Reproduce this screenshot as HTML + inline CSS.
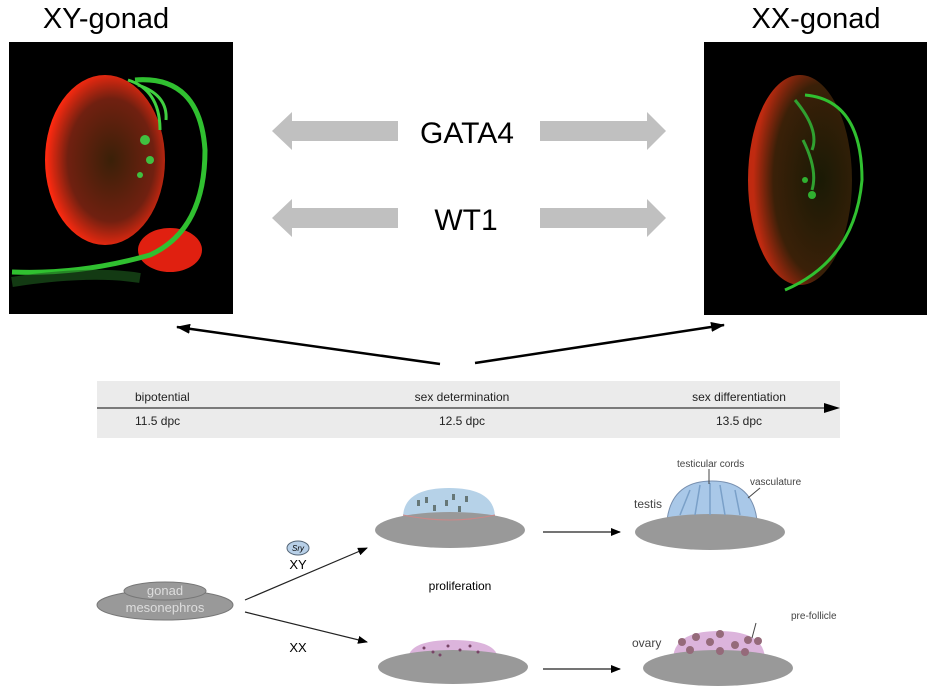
<!DOCTYPE html>
<html><head><meta charset="utf-8"><style>body{margin:0;background:#fff}svg{display:block}</style></head><body>
<svg width="938" height="700" viewBox="0 0 938 700" xmlns="http://www.w3.org/2000/svg" font-family="Liberation Sans, sans-serif">
<defs>
<radialGradient id="rd" cx="0.55" cy="0.5" r="0.6"><stop offset="0" stop-color="#3a2008"/><stop offset="0.6" stop-color="#702010"/><stop offset="0.9" stop-color="#ff2a10"/><stop offset="1" stop-color="#ff2a10"/></radialGradient>
<radialGradient id="rd2" cx="0.7" cy="0.5" r="0.65"><stop offset="0" stop-color="#1a1a05"/><stop offset="0.7" stop-color="#3a2008"/><stop offset="1" stop-color="#c02a10"/></radialGradient>
<marker id="ah" markerWidth="10" markerHeight="8" refX="9" refY="4" orient="auto" markerUnits="userSpaceOnUse"><path d="M0,0 L10,4 L0,8z" fill="#000"/></marker>
<marker id="ah2" markerWidth="14" markerHeight="10" refX="13" refY="5" orient="auto" markerUnits="userSpaceOnUse"><path d="M0,0 L14,5 L0,10z" fill="#000"/></marker>
</defs>
<text x="106" y="28" font-size="29" text-anchor="middle">XY-gonad</text>
<text x="816" y="28" font-size="29" text-anchor="middle">XX-gonad</text>
<rect x="9" y="42" width="224" height="272" fill="#000"/>
<ellipse cx="105" cy="160" rx="60" ry="85" fill="url(#rd)"/>
<ellipse cx="170" cy="250" rx="32" ry="22" fill="#e02010"/>
<path d="M135 80 Q200 75 205 150 Q205 230 150 255 Q80 275 12 272" fill="none" stroke="#30c030" stroke-width="5"/>
<path d="M12 282 Q90 270 140 278" fill="none" stroke="#206020" stroke-width="10" opacity="0.6"/>
<path d="M128 80 Q160 90 160 130 M138 85 Q168 95 166 120" fill="none" stroke="#40d040" stroke-width="3"/>
<circle cx="145" cy="140" r="5" fill="#40c040"/><circle cx="150" cy="160" r="4" fill="#40c040"/><circle cx="140" cy="175" r="3" fill="#40c040"/>
<rect x="704" y="42" width="223" height="273" fill="#000"/>
<ellipse cx="800" cy="180" rx="52" ry="105" fill="url(#rd2)"/>
<path d="M805 95 Q862 100 862 180 Q855 260 785 290" fill="none" stroke="#30c030" stroke-width="3"/>
<path d="M795 100 Q820 130 812 150 M803 140 Q818 170 812 190" fill="none" stroke="#30a030" stroke-width="3"/>
<circle cx="812" cy="195" r="4" fill="#30b030"/><circle cx="805" cy="180" r="3" fill="#30b030"/>
<path d="M398 121 L292 121 L292 112 L272 131 L292 150 L292 141 L398 141z" fill="#c0c0c0"/>
<path d="M540 121 L647 121 L647 112 L666 131 L647 150 L647 141 L540 141z" fill="#c0c0c0"/>
<path d="M398 208 L292 208 L292 199 L272 218 L292 237 L292 228 L398 228z" fill="#c0c0c0"/>
<path d="M540 208 L647 208 L647 199 L666 218 L647 237 L647 228 L540 228z" fill="#c0c0c0"/>
<text x="467" y="143" font-size="30" text-anchor="middle">GATA4</text>
<text x="466" y="230" font-size="30" text-anchor="middle">WT1</text>
<line x1="440" y1="364" x2="177" y2="327" stroke="#000" stroke-width="2.5" marker-end="url(#ah2)"/>
<line x1="475" y1="363" x2="724" y2="325" stroke="#000" stroke-width="2.5" marker-end="url(#ah2)"/>
<rect x="97" y="381" width="743" height="57" fill="#ebebeb"/>
<line x1="97" y1="408" x2="828" y2="408" stroke="#555" stroke-width="1.5"/>
<path d="M824 403 L840 408 L824 413z" fill="#000"/>
<g font-size="12" fill="#222">
<text x="135" y="401">bipotential</text><text x="135" y="425">11.5 dpc</text>
<text x="462" y="401" text-anchor="middle">sex determination</text><text x="462" y="425" text-anchor="middle">12.5 dpc</text>
<text x="739" y="401" text-anchor="middle">sex differentiation</text><text x="739" y="425" text-anchor="middle">13.5 dpc</text>
</g>
<ellipse cx="165" cy="605" rx="68" ry="15" fill="#999" stroke="#777"/>
<ellipse cx="165" cy="591" rx="41" ry="9" fill="#999" stroke="#777"/>
<text x="165" y="595" font-size="13" fill="#ddd" text-anchor="middle">gonad</text>
<text x="165" y="612" font-size="13" fill="#ddd" text-anchor="middle">mesonephros</text>
<ellipse cx="298" cy="548" rx="11" ry="7" fill="#b8d0e8" stroke="#567"/>
<text x="298" y="551" font-size="8" font-style="italic" text-anchor="middle">Sry</text>
<text x="298" y="569" font-size="13" text-anchor="middle">XY</text>
<text x="298" y="652" font-size="13" text-anchor="middle">XX</text>
<line x1="245" y1="600" x2="367" y2="548" stroke="#222" stroke-width="1.2" marker-end="url(#ah)"/>
<line x1="245" y1="612" x2="367" y2="642" stroke="#222" stroke-width="1.2" marker-end="url(#ah)"/>
<text x="460" y="590" font-size="12" text-anchor="middle">proliferation</text>
<path d="M403 518 Q403 488 449 488 Q495 488 495 518z" fill="#b6d2e8"/>
<ellipse cx="450" cy="530" rx="75" ry="18" fill="#999"/>
<path d="M403 515 Q450 525 495 515" fill="none" stroke="#c88" stroke-width="1"/>
<g fill="#677"><rect x="417" y="500" width="3" height="6"/><rect x="425" y="497" width="3" height="6"/><rect x="445" y="500" width="3" height="6"/><rect x="452" y="494" width="3" height="6"/><rect x="465" y="496" width="3" height="6"/><rect x="433" y="505" width="3" height="6"/><rect x="458" y="506" width="3" height="6"/></g>
<line x1="543" y1="532" x2="620" y2="532" stroke="#222" stroke-width="1.2" marker-end="url(#ah)"/>
<path d="M667 520 Q672 481 712 481 Q752 481 757 520z" fill="#a9c8e8" stroke="#7890b0"/>
<ellipse cx="710" cy="532" rx="75" ry="18" fill="#999"/>
<g stroke="#7aa0c8" stroke-width="1.5"><line x1="680" y1="515" x2="690" y2="490"/><line x1="695" y1="515" x2="700" y2="485"/><line x1="710" y1="515" x2="710" y2="483"/><line x1="725" y1="515" x2="720" y2="485"/><line x1="740" y1="515" x2="735" y2="490"/></g>
<text x="677" y="467" font-size="10" fill="#444">testicular cords</text>
<text x="750" y="485" font-size="10" fill="#444">vasculature</text>
<text x="634" y="508" font-size="12" fill="#444">testis</text>
<line x1="709" y1="469" x2="709" y2="484" stroke="#444"/><line x1="760" y1="488" x2="748" y2="498" stroke="#444"/>
<line x1="543" y1="669" x2="620" y2="669" stroke="#222" stroke-width="1.2" marker-end="url(#ah)"/>
<path d="M408 660 Q408 640 453 640 Q498 640 498 660z" fill="#dcb4dc"/>
<ellipse cx="453" cy="667" rx="75" ry="17" fill="#999"/>
<g fill="#746"><circle cx="424" cy="648" r="1.5"/><circle cx="433" cy="652" r="1.5"/><circle cx="448" cy="646" r="1.5"/><circle cx="460" cy="650" r="1.5"/><circle cx="470" cy="646" r="1.5"/><circle cx="478" cy="652" r="1.5"/><circle cx="440" cy="655" r="1.5"/></g>
<path d="M673 660 Q673 631 719 631 Q765 631 765 660z" fill="#dcb4dc"/>
<ellipse cx="718" cy="668" rx="75" ry="18" fill="#999"/>
<g fill="#956a7a"><circle cx="682" cy="642" r="4"/><circle cx="696" cy="637" r="4"/><circle cx="690" cy="650" r="4"/><circle cx="710" cy="642" r="4"/><circle cx="720" cy="651" r="4"/><circle cx="720" cy="634" r="4"/><circle cx="735" cy="645" r="4"/><circle cx="748" cy="640" r="4"/><circle cx="745" cy="652" r="4"/><circle cx="758" cy="641" r="4"/></g>
<text x="632" y="647" font-size="12" fill="#444">ovary</text>
<text x="791" y="619" font-size="10" fill="#444">pre-follicle</text>
<line x1="756" y1="623" x2="752" y2="638" stroke="#444"/>
</svg>
</body></html>
